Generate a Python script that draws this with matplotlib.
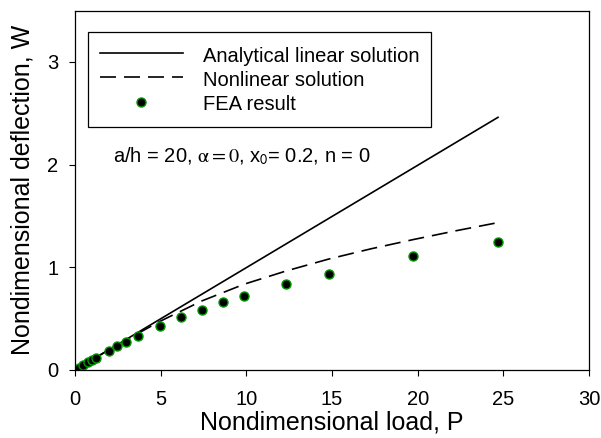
import matplotlib.pyplot as plt

plt.rcParams['font.family'] = ['Liberation Sans', 'DejaVu Sans']
plt.rcParams['mathtext.fontset'] = 'stix'

# FEA result points
fea_p = [0.25, 0.49, 0.74, 0.99, 1.23, 1.97, 2.47, 2.96, 3.70, 4.94,
         6.17, 7.40, 8.64, 9.87, 12.34, 14.81, 19.75, 24.69]
fea_w = [0.022, 0.050, 0.075, 0.096, 0.117, 0.188, 0.229, 0.274, 0.331, 0.425,
         0.513, 0.584, 0.659, 0.720, 0.837, 0.935, 1.110, 1.250]

# analytical linear solution
lin_p = [0, 24.69]
lin_w = [0, 2.46]

# nonlinear solution
nl_p = [0, 2.47, 4.94, 7.40, 9.87, 12.34, 14.81, 17.28, 19.75, 22.22, 24.69]
nl_w = [0, 0.245, 0.472, 0.672, 0.835, 0.965, 1.080, 1.180, 1.270, 1.355, 1.435]

fig = plt.figure(figsize=(6.01, 4.38), dpi=100)
ax = fig.add_axes([0.1248, 0.1553, 0.98 - 0.1248, 0.976 - 0.1553])

ax.plot(lin_p, lin_w, color='black', lw=1.2, label='Analytical linear solution')
ax.plot(nl_p, nl_w, color='black', lw=1.2, dashes=(9.6, 4.8), label='Nonlinear solution')
ax.plot(fea_p, fea_w, 'o', color='black', markeredgecolor='#009900',
        markersize=6.5, markeredgewidth=1.0, label='FEA result')

ax.set_xlim(0, 30)
ax.set_ylim(0, 3.5)
ax.set_xticks([0, 5, 10, 15, 20, 25, 30])
ax.set_yticks([0, 1, 2, 3])
ax.tick_params(direction='out', length=4, width=0.8, labelsize=14.5, top=False, right=False)
ax.tick_params(axis='x', pad=10.5)
ax.tick_params(axis='y', pad=8)
for s in ax.spines.values():
    s.set_linewidth(0.9)

ax.set_xlabel('Nondimensional load, P', fontsize=18, labelpad=1)
ax.set_ylabel('Nondimensional deflection, W', fontsize=18, labelpad=9)

leg = ax.legend(loc='upper left', bbox_to_anchor=(0.025, 0.94), fontsize=14.5,
                handlelength=4.1, handletextpad=1.0, labelspacing=0.15, borderpad=0.6,
                handleheight=1.25,
                fancybox=False, edgecolor='black', framealpha=1, borderaxespad=0)
leg.get_frame().set_linewidth(0.9)

ax.text(0.074, 0.595, r'a/h = 20, $\mathrm{\alpha = 0}$, x$_\mathsf{0}$= 0.2, n = 0',
        transform=ax.transAxes, fontsize=14.5, va='center')

fig.savefig('out.png', dpi=100)
